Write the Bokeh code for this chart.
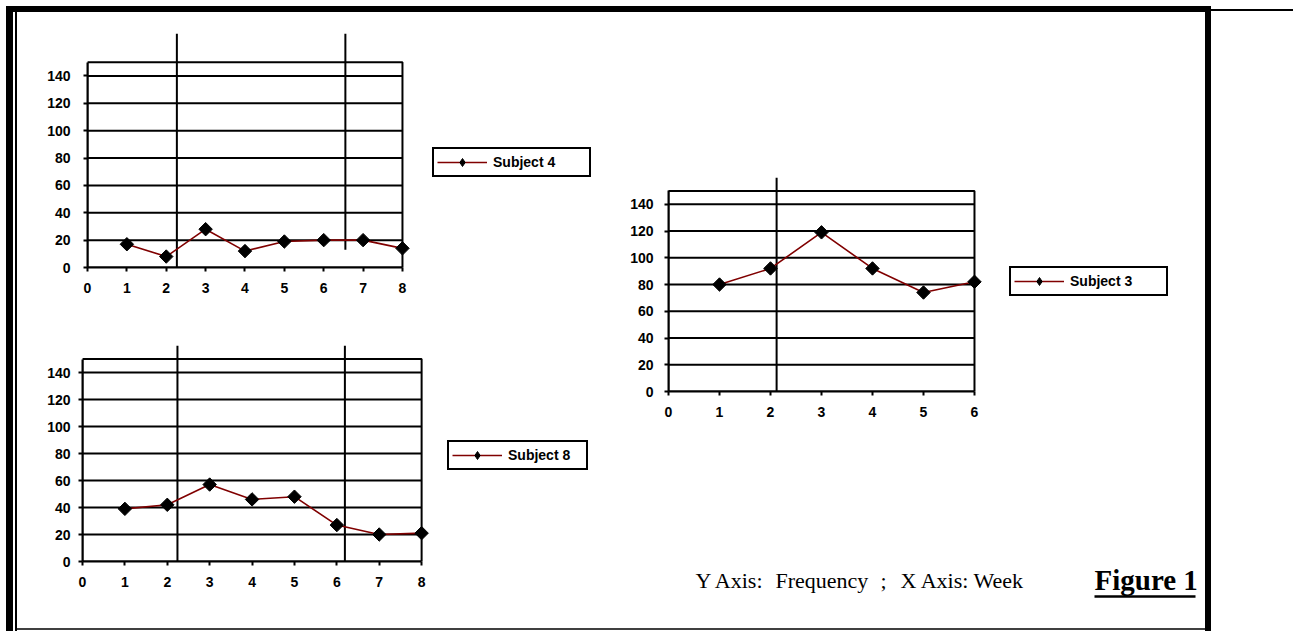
import math
from bokeh.plotting import figure
from bokeh.models import Range1d, FixedTicker, Legend, LegendItem, Spacer, Row, Column
from bokeh.embed import file_html
from bokeh.resources import INLINE
from bokeh.core.properties import value

# ---------------- data ----------------
weeks_s4 = [1, 2, 3, 4, 5, 6, 7, 8]
freq_s4 = [17, 8, 28, 12, 19, 20, 20, 14]
phase_s4 = [2.27, 6.55]
phase_s4_from = [0, 13]

weeks_s8 = [1, 2, 3, 4, 5, 6, 7, 8]
freq_s8 = [39, 42, 57, 46, 48, 27, 20, 21]
phase_s8 = [2.24, 6.19]
phase_s8_from = [0, 0]

weeks_s3 = [1, 2, 3, 4, 5, 6]
freq_s3 = [80, 92, 119, 92, 74, 82]
phase_s3 = [2.12]
phase_s3_from = [0]

y_ticks = [0, 20, 40, 60, 80, 100, 120, 140]
y_box_top = 150

caption_parts = ["Y Axis:", "Frequency", ";", "X Axis: Week"]
figure_title = "Figure 1"

FONT = "Liberation Sans"
SERIF = "Liberation Serif"
LINE_COLOR = "#800000"


def chart(weeks, freq, label, n_weeks, phase_x, phase_from, x_end, y_end,
          width, height, mbl, mbt, mbb, leg_loc, leg_label_w, y_standoff):
    p = figure(width=width, height=height,
               x_range=Range1d(0, x_end), y_range=Range1d(0, y_end),
               output_backend="svg", toolbar_location=None,
               min_border_left=mbl, min_border_right=0,
               min_border_top=mbt, min_border_bottom=mbb,
               outline_line_color=None,
               background_fill_color="white", border_fill_color="white")
    p.grid.visible = False

    # horizontal grid lines limited to the plot box
    grid_y = y_ticks[1:]
    p.segment(x0=[0] * len(grid_y), y0=grid_y, x1=[n_weeks] * len(grid_y), y1=grid_y,
              line_color="black", line_width=2)
    p.quad(left=[0], right=[n_weeks], bottom=[0], top=[y_box_top],
           fill_color=None, line_color="black", line_width=2)
    p.segment(x0=phase_x, y0=phase_from, x1=phase_x, y1=[y_end] * len(phase_x),
              line_color="black", line_width=2)
    ln = p.line(weeks, freq, line_color=LINE_COLOR, line_width=1.6)
    # diamond used for the legend symbol (hidden under the first data marker)
    leg_mk = p.scatter(x=weeks[:1], y=freq[:1], marker="diamond", size=11,
                       fill_color="black", line_color="black")
    p.scatter(weeks, freq, marker="square", angle=math.pi / 4, size=9.5,
              fill_color="black", line_color="black")

    xa = p.xaxis[0]
    xa.bounds = (0, n_weeks)
    xa.ticker = FixedTicker(ticks=list(range(n_weeks + 1)))
    ya = p.yaxis[0]
    ya.bounds = (0, y_box_top)
    ya.ticker = FixedTicker(ticks=y_ticks)
    for ax in (xa, ya):
        ax.axis_line_color = "black"
        ax.axis_line_width = 2
        ax.major_tick_line_color = "black"
        ax.major_tick_line_width = 2
        ax.major_tick_in = 0
        ax.major_tick_out = 4
        ax.minor_tick_line_color = None
        ax.major_label_text_font = FONT
        ax.major_label_text_font_style = "bold"
        ax.major_label_text_font_size = "14px"
        ax.major_label_text_color = "black"
    xa.major_label_standoff = 11
    ya.major_label_standoff = y_standoff

    leg = Legend(items=[LegendItem(label=label, renderers=[ln, leg_mk])],
                 location=leg_loc, margin=0, padding=3, spacing=0,
                 glyph_width=50, glyph_height=20, label_height=20, label_width=leg_label_w,
                 label_standoff=6,
                 label_text_font=FONT, label_text_font_style="bold",
                 label_text_font_size="14px", label_text_color="black",
                 border_line_color="black", border_line_width=2, border_line_alpha=1,
                 background_fill_color="white", background_fill_alpha=1)
    p.add_layout(leg)
    return p


# Subject 4 (top-left)
pA = chart(weeks_s4, freq_s4, "Subject 4", 8, phase_s4, phase_s4_from,
           x_end=13.03, y_end=171, width=578, height=308,
           mbl=65, mbt=21, mbb=53, leg_loc=(345, 90), leg_label_w=93, y_standoff=13)
# Subject 8 (bottom-left)
pB = chart(weeks_s8, freq_s8, "Subject 8", 8, phase_s8, phase_s8_from,
           x_end=12.22, y_end=160, width=583, height=308,
           mbl=65, mbt=25, mbb=67, leg_loc=(365, 91), leg_label_w=75, y_standoff=8)
# Subject 3 (right)
pC = chart(weeks_s3, freq_s3, "Subject 3", 6, phase_s3, phase_s3_from,
           x_end=10.53, y_end=160, width=605, height=280,
           mbl=68, mbt=27, mbb=39, leg_loc=(341, 95), leg_label_w=93, y_standoff=11)

# caption area (coordinates in pixels from the column's left / area's top)
pT = figure(width=605, height=198, x_range=Range1d(68, 605), y_range=Range1d(198, 0),
            output_backend="svg", toolbar_location=None,
            min_border_left=68, min_border_right=0, min_border_top=0, min_border_bottom=0,
            x_axis_type=None, y_axis_type=None, outline_line_color=None,
            background_fill_color="white", border_fill_color="white")
pT.grid.visible = False
pT.text(x=[95, 175, 280, 300], y=[150] * 4, text=caption_parts,
        text_font=value(SERIF), text_font_size="22px", text_color="black",
        text_baseline="middle", text_align="left")
pT.text(x=[494], y=[149], text=[figure_title],
        text_font=value(SERIF), text_font_size="29px", text_font_style="bold",
        text_color="black", text_baseline="middle", text_align="left")
pT.segment(x0=[494], y0=[166], x1=[595], y1=[166], line_color="black", line_width=2.5)


def bar(w, h, color="black"):
    return Spacer(width=w, height=h, styles={"background-color": color})


BODY_H = 619
left_col = Column(children=[Row(children=[Spacer(width=5, height=308), pA], spacing=0),
                            Row(children=[pB], spacing=0)], spacing=0)
right_col = Column(children=[Spacer(width=605, height=138),
                             Row(children=[pC], spacing=0),
                             Row(children=[pT], spacing=0)], spacing=0)
charts = Row(children=[left_col, right_col], spacing=0)
content = Column(children=[charts, bar(1188, 2, "#404040"), Spacer(width=1188, height=1)],
                 spacing=0)

body = Row(children=[Spacer(width=6, height=BODY_H), bar(7, BODY_H),
                     Spacer(width=2, height=BODY_H), bar(2, BODY_H),
                     content, bar(6, BODY_H)], spacing=0)
top_right = Column(children=[Spacer(width=82, height=3), bar(82, 2), Spacer(width=82, height=1)],
                   spacing=0)
top = Row(children=[Spacer(width=6, height=6), bar(1205, 6), top_right], spacing=0)
root = Column(children=[Spacer(width=1293, height=6), top, body], spacing=0)

open("out.html", "w").write(file_html(root, INLINE))
